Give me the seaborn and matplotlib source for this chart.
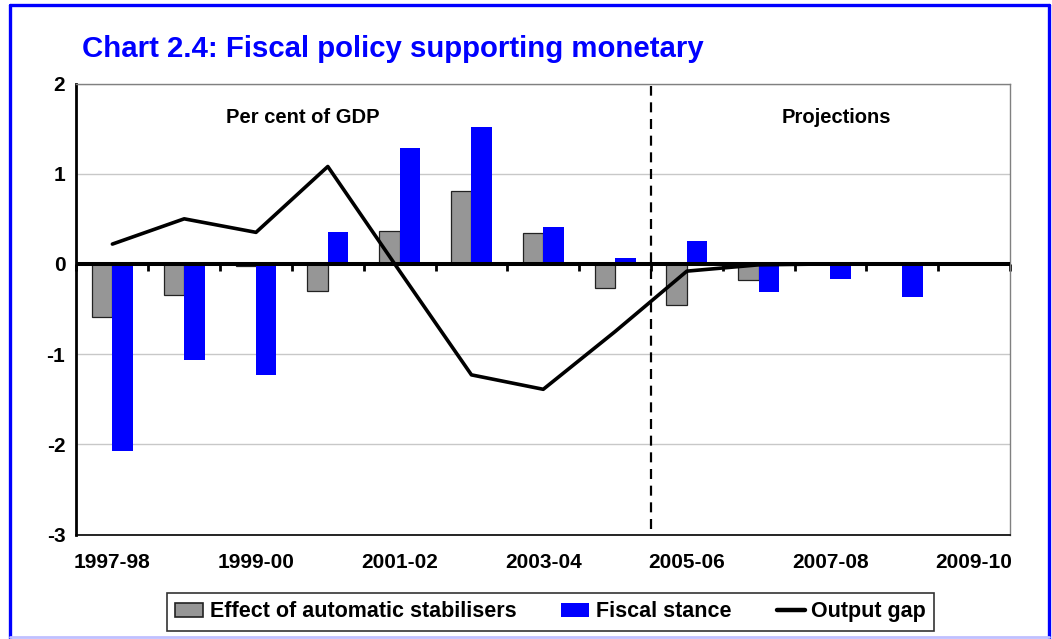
import numpy as np
import pandas as pd
import matplotlib
matplotlib.use("Agg")
import matplotlib.pyplot as plt
from matplotlib.patches import Patch
from matplotlib.lines import Line2D
import seaborn as sns

# Fiscal years shown on the category axis
years = ["1997-98", "1998-99", "1999-00", "2000-01", "2001-02", "2002-03", "2003-04",
         "2004-05", "2005-06", "2006-07", "2007-08", "2008-09", "2009-10"]
# Per cent of GDP
auto_stabilisers = [-0.59, -0.34, -0.02, -0.30, 0.37, 0.81, 0.34, -0.27, -0.46, -0.18, 0.0, 0.0, 0.0]
fiscal_stance = [-2.07, -1.07, -1.23, 0.35, 1.28, 1.52, 0.41, 0.07, 0.25, -0.31, -0.17, -0.37, 0.0]
output_gap = [0.22, 0.50, 0.35, 1.08, -0.08, -1.23, -1.39, -0.75, -0.08, -0.01, 0.0, 0.0, 0.0]

series_names = ["Effect of automatic stabilisers", "Fiscal stance", "Output gap"]
first_projection_year = "2005-06"
title = "Chart 2.4: Fiscal policy supporting monetary"
y_ticks = [2, 1, 0, -1, -2, -3]

GREY = "#969696"
BLUE = "#0000FF"

sns.set_style("white")
plt.rcParams["font.family"] = ["Liberation Sans", "DejaVu Sans"]
plt.rcParams["font.weight"] = "bold"
plt.rcParams["text.color"] = "black"
plt.rcParams["xtick.color"] = "black"
plt.rcParams["ytick.color"] = "black"
plt.rcParams["axes.labelcolor"] = "black"

df = pd.DataFrame({
    "year": years * 2,
    "series": [series_names[0]] * len(years) + [series_names[1]] * len(years),
    "value": auto_stabilisers + fiscal_stance,
})

fig = plt.figure(figsize=(10.52, 6.39), dpi=100)
ax = fig.add_axes([0.0727, 0.1635, 0.8874, 0.7058])
ax.set_axisbelow(True)

sns.barplot(data=df, x="year", y="value", hue="series", hue_order=series_names[:2],
            palette=[GREY, BLUE], width=0.57, gap=0, legend=False, ax=ax,
            saturation=1, err_kws={"linewidth": 0})

n = len(years)
for patch in ax.patches[:n]:
    patch.set_edgecolor("#222222")
    patch.set_linewidth(0.9)
for patch in ax.patches[n:]:
    patch.set_linewidth(0)

pos = np.arange(n)
sns.lineplot(x=pos, y=output_gap, color="black", linewidth=2.6, ax=ax, zorder=5)

# zero line with category-boundary ticks
ax.axhline(0, color="black", linewidth=2.9, zorder=4)
sec = ax.secondary_xaxis(3 / 5)
sec.set_xticks(np.arange(n + 1) - 0.5)
sec.set_xticklabels([])
sec.tick_params(direction="in", length=5, width=2, color="black")
for s in sec.spines.values():
    s.set_visible(False)

# boundary between outturns and projections
split = years.index(first_projection_year) - 0.5
ax.axvline(split, ymin=0.013, ymax=0.995, color="black", linewidth=1.6,
           linestyle=(0, (4.5, 3)), zorder=3)

ax.set_xlim(-0.5, n - 0.5)
ax.set_ylim(-3, 2)
ax.set_yticks(y_ticks)
ax.set_yticklabels([str(v) for v in y_ticks], fontsize=15, fontweight="bold")
ax.set_xticks(pos[::2])
ax.set_xticklabels(years[::2], fontsize=15, fontweight="bold")
ax.tick_params(axis="x", length=0, pad=13)
ax.tick_params(axis="y", direction="out", length=6, width=1.6, pad=2, color="black")
ax.set_xlabel("")
ax.set_ylabel("")

ax.yaxis.grid(True, color="#C8C8C8", linewidth=1)
ax.xaxis.grid(False)

ax.spines["left"].set_color("black")
ax.spines["left"].set_linewidth(2)
ax.spines["bottom"].set_color("black")
ax.spines["bottom"].set_linewidth(1.2)
for side in ("top", "right"):
    ax.spines[side].set_color("#808080")
    ax.spines[side].set_linewidth(1)

ax.text(0.2426, 0.913, "Per cent of GDP", transform=ax.transAxes, ha="center",
        va="baseline", fontsize=14.5, fontweight="bold", color="black")
ax.text(0.8136, 0.913, "Projections", transform=ax.transAxes, ha="center",
        va="baseline", fontsize=14.5, fontweight="bold", color="black")

fig.text(82 / 1052, 1 - 56.7 / 639, title, color=BLUE, fontsize=21.2,
         fontweight="bold", ha="left", va="baseline")

handles = [
    Patch(facecolor=GREY, edgecolor="#222222", linewidth=1.2),
    Patch(facecolor=BLUE, edgecolor=BLUE, linewidth=0),
    Line2D([0], [0], color="black", linewidth=3.2),
]
leg = fig.legend(handles, series_names, loc="center", bbox_to_anchor=(0.5233, 0.0423),
                 ncol=3, frameon=True, fancybox=False, shadow=False,
                 prop={"size": 15.5, "weight": "bold"}, handlelength=1.3,
                 handleheight=0.65, handletextpad=0.3, columnspacing=2.1,
                 borderpad=0.4, borderaxespad=0)
leg.get_frame().set_edgecolor("black")
leg.get_frame().set_linewidth(1.2)
for t in leg.get_texts():
    t.set_color("black")

# page frame
frame_kw = dict(transform=fig.transFigure, color=BLUE, linewidth=2.4)
fig.add_artist(Line2D([9.6 / 1052, 1049 / 1052], [1 - 5 / 639] * 2, **frame_kw))
fig.add_artist(Line2D([9.6 / 1052] * 2, [0, 1 - 5 / 639], **frame_kw))
fig.add_artist(Line2D([1049 / 1052] * 2, [0, 1 - 5 / 639], **frame_kw))
fig.add_artist(Line2D([9.6 / 1052, 1049 / 1052], [2 / 639] * 2,
                      transform=fig.transFigure, color="#C0C0FF", linewidth=2))

fig.savefig("out.png", dpi=100)
